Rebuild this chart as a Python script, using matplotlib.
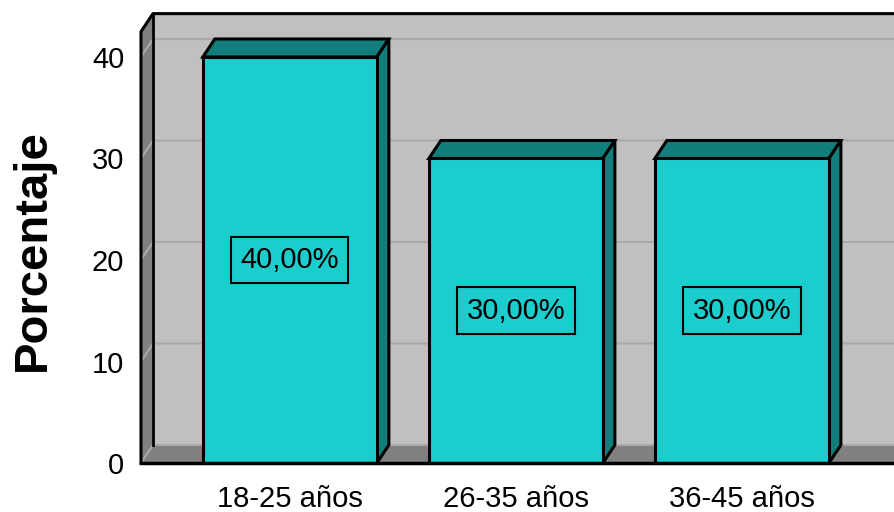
import matplotlib
matplotlib.use("Agg")
import matplotlib.pyplot as plt
from matplotlib.patches import Polygon

# data
grupos = ["18-25 años", "26-35 años", "36-45 años"]
porcentaje = [40.0, 30.0, 30.0]
yticks = [0, 10, 20, 30, 40]

plt.rcParams['font.family'] = ['Liberation Sans', 'DejaVu Sans']

cian = '#1ccdcd'
teal = '#117e7b'
pared = '#c0c0c0'
suelo = '#808080'
rejilla = '#a9a9a9'

fig = plt.figure(figsize=(8.94, 5.12), dpi=100)
ax = fig.add_axes([0.1577, 0.0957, 1 - 0.1577, 0.8921])

x0, x1 = -0.6586, 2.673
ax.set_xlim(x0, x1)
ax.set_ylim(0, 45)

# depth of the pseudo 3d look, in data units
dx = 12 / 226.25
dy = 18 / 10.15
top = 42.5

# back wall, floor and left wall
ax.add_patch(Polygon([(x0 + dx, dy), (x1 + 1, dy), (x1 + 1, top + dy), (x0 + dx, top + dy)],
                     closed=True, fc=pared, ec='none', zorder=0))
ax.add_patch(Polygon([(x0, 0), (x1 + 1, 0), (x1 + 1, dy), (x0 + dx, dy)],
                     closed=True, fc=suelo, ec='none', zorder=0))
ax.add_patch(Polygon([(x0, 0), (x0 + dx, dy), (x0 + dx, top + dy), (x0, top)],
                     closed=True, fc=suelo, ec='none', zorder=0))

for v in yticks:
    ax.plot([x0, x0 + dx, x1 + 1], [v, v + dy, v + dy], color=rejilla, lw=1.5, zorder=0.5,
            solid_joinstyle='miter')

# wall outlines
ax.plot([x0, x0, x0 + dx, x1 + 1], [0, top, top + dy, top + dy], color='black', lw=2.2, zorder=1,
        clip_on=False)
ax.plot([x0 + dx, x0 + dx], [dy, top + dy], color='black', lw=2.0, zorder=1)
ax.plot([x0, x1 + 1], [0, 0], color='black', lw=2.5, zorder=4, clip_on=False)

xs = list(range(len(grupos)))
bars = ax.bar(xs, porcentaje, width=0.77, color=cian, edgecolor='black', linewidth=2.2, zorder=3)

for rect in bars:
    l = rect.get_x()
    r = l + rect.get_width()
    h = rect.get_height()
    ax.add_patch(Polygon([(l, h), (r, h), (r + dx, h + dy), (l + dx, h + dy)],
                         closed=True, fc=teal, ec='black', lw=2.2, zorder=2.5))
    ax.add_patch(Polygon([(r, 0), (r + dx, dy), (r + dx, h + dy), (r, h)],
                         closed=True, fc=teal, ec='black', lw=2.2, zorder=2.5))

for xi, v in zip(xs, porcentaje):
    ax.text(xi, v / 2, f"{v:.2f}%".replace('.', ','), ha='center', va='center', fontsize=21,
            zorder=5, bbox=dict(boxstyle='square,pad=0.32', fc=cian, ec='black', lw=1.5))

for s in ax.spines.values():
    s.set_visible(False)
ax.set_yticks(yticks)
ax.set_yticklabels([str(t) for t in yticks], fontsize=21)
ax.set_xticks(xs)
ax.set_xticklabels(grupos, fontsize=21)
ax.tick_params(axis='y', length=0, pad=12)
ax.tick_params(axis='x', length=0, pad=16)

fig.text(33 / 894, 0.512, "Porcentaje", rotation=90, ha='center', va='center',
         fontsize=34, fontweight='bold')

fig.savefig("out.png", dpi=100)
